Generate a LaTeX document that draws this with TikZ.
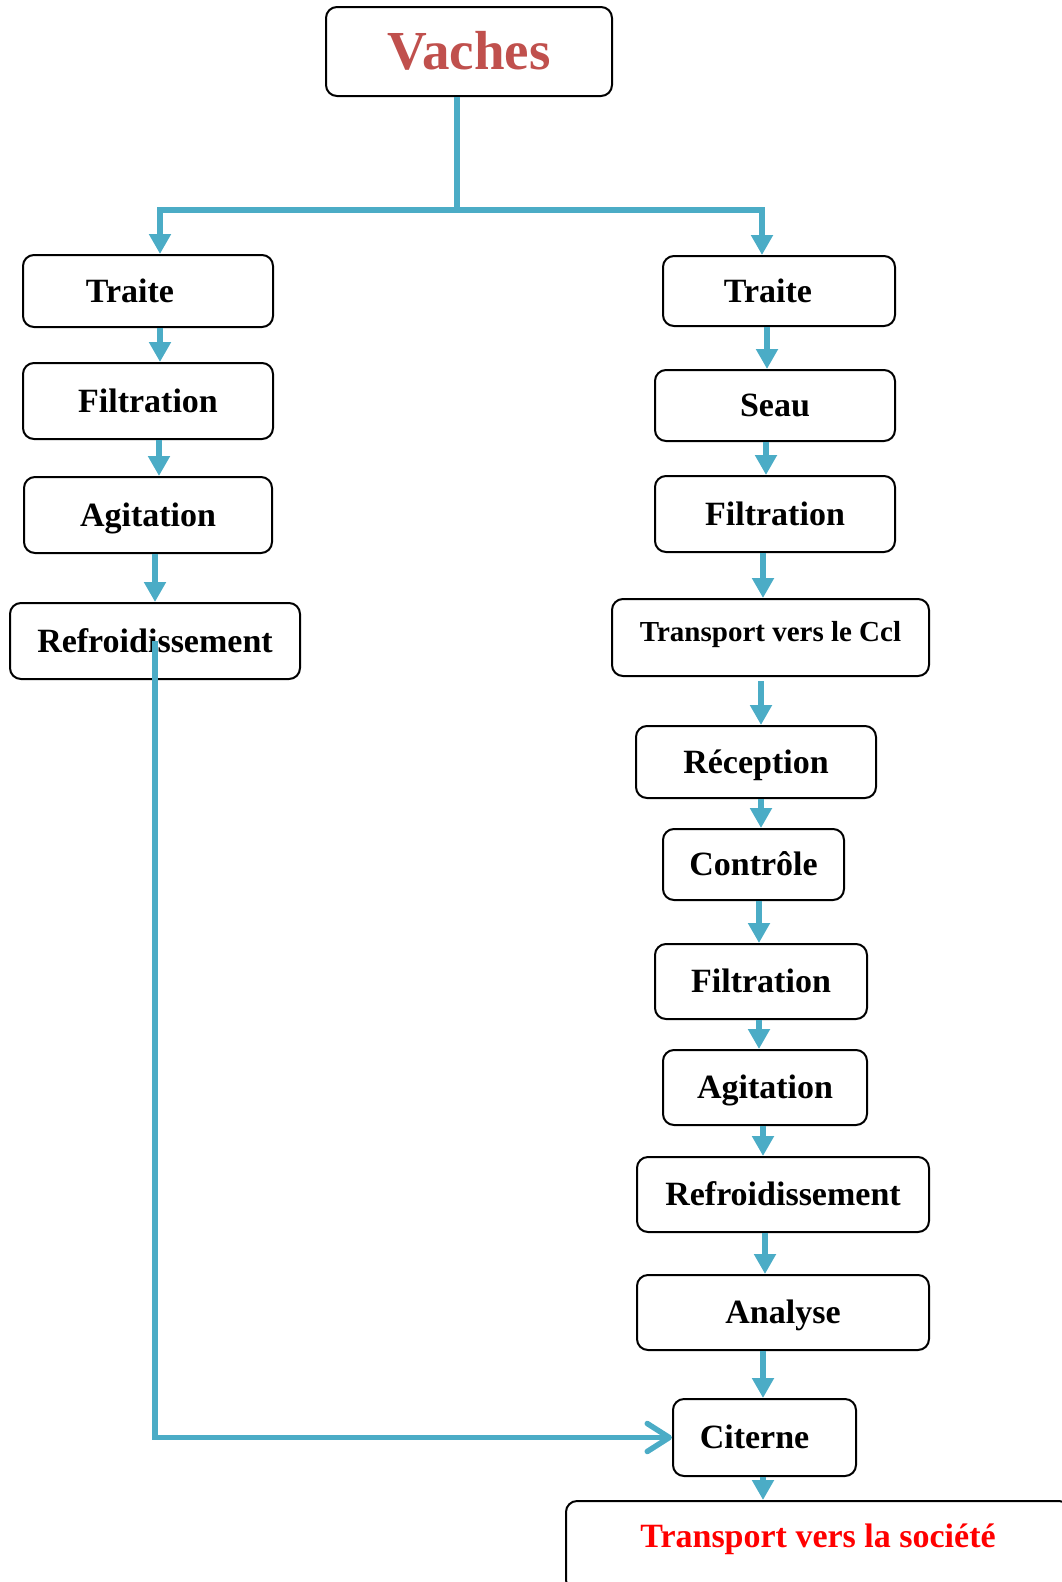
\documentclass[tikz,border=0pt]{standalone}
\usepackage{fontspec}
\setmainfont{Liberation Serif}
\usetikzlibrary{arrows.meta}
\definecolor{bleuf}{HTML}{4BACC6}
\definecolor{rouille}{HTML}{C0504D}
\definecolor{rougevif}{HTML}{FF0000}

\tikzset{
  etape/.style={draw=black, line width=2pt, rounded corners=11pt, inner sep=0pt,
    font=\bfseries\fontsize{34}{40}\selectfont, text height=22.5pt, text depth=0pt},
  lien/.style={draw=bleuf, line width=6.5pt},
  fleche/.style={lien, -{Triangle[width=21pt,length=20pt]}},
  retour/.style={lien, line width=5.5pt, -{Straight Barb[length=22pt,width=28pt,round]}}
}

\begin{document}
\begin{tikzpicture}[x=1pt,y=-1pt]
  \clip (0,0) rectangle (1062,1582);

  % source
  \node[etape, minimum width=286pt, minimum height=89pt, text=rouille,
    font=\bfseries\fontsize{55}{62}\selectfont, text height=36.4pt] (vaches) at (469,51.5) {Vaches};

  % colonne gauche
  \node[etape, minimum width=250pt, minimum height=72pt] (ltraite) at (148,291) {Traite\kern36pt};
  \node[etape, minimum width=250pt, minimum height=76pt] (lfilt) at (148,401) {Filtration};
  \node[etape, minimum width=248pt, minimum height=76pt] (lagit) at (148,515) {Agitation};
  \node[etape, minimum width=290pt, minimum height=76pt] (lrefr) at (155,641) {Refroidissement};

  % colonne droite
  \node[etape, minimum width=232pt, minimum height=70pt] (rtraite) at (779,291) {Traite\kern22pt};
  \node[etape, minimum width=240pt, minimum height=71pt] (seau) at (775,405.5) {Seau};
  \node[etape, minimum width=240pt, minimum height=76pt] (rfilt) at (775,514) {Filtration};
  \node[etape, minimum width=317pt, minimum height=77pt, font=\bfseries\fontsize{29}{34}\selectfont,
    text height=19.2pt, text depth=11pt] (ccl) at (770.5,637.5) {Transport vers le Ccl};
  \node[etape, minimum width=240pt, minimum height=72pt] (recep) at (756,762) {Réception};
  \node[etape, minimum width=181pt, minimum height=71pt] (contr) at (753.5,864.5) {Contrôle};
  \node[etape, minimum width=212pt, minimum height=75pt] (rfilt2) at (761,981.5) {Filtration};
  \node[etape, minimum width=204pt, minimum height=75pt] (ragit) at (765,1087.5) {Agitation};
  \node[etape, minimum width=292pt, minimum height=75pt] (rrefr) at (783,1194.5) {Refroidissement};
  \node[etape, minimum width=292pt, minimum height=75pt] (analyse) at (783,1312.5) {Analyse};
  \node[etape, minimum width=183pt, minimum height=77pt] (citerne) at (764.5,1437.5) {Citerne\kern20pt};
  \node[etape, minimum width=504pt, minimum height=90pt, text=rougevif, text depth=20pt] (societe) at (818,1546) {Transport vers la société};

  % branchement
  \coordinate (fourche) at (457,210);
  \draw[lien] ([xshift=-12pt]vaches.south) -- (fourche);
  \draw[fleche] (fourche) -| ([xshift=12pt]ltraite.north);
  \draw[fleche] (fourche) -| ([xshift=-17pt]rtraite.north);

  % gauche
  \draw[fleche] ([xshift=12pt]ltraite.south) -- ([xshift=12pt]lfilt.north);
  \draw[fleche] ([xshift=11pt]lfilt.south) -- ([xshift=11pt]lagit.north);
  \draw[fleche] ([xshift=7pt]lagit.south) -- (lrefr.north);
  \draw[retour] (lrefr.center) |- (citerne.west);

  % droite
  \draw[fleche] ([xshift=-12pt]rtraite.south) -- ([xshift=-8pt]seau.north);
  \draw[fleche] ([xshift=-9pt]seau.south) -- ([xshift=-9pt]rfilt.north);
  \draw[fleche] ([xshift=-12pt]rfilt.south) -- ([xshift=-7.5pt]ccl.north);
  \draw[fleche] ([xshift=-9.5pt,yshift=-4pt]ccl.south) -- ([xshift=5pt]recep.north);
  \draw[fleche] ([xshift=5pt]recep.south) -- ([xshift=7.5pt]contr.north);
  \draw[fleche] ([xshift=5.5pt]contr.south) -- ([xshift=-2pt]rfilt2.north);
  \draw[fleche] ([xshift=-2pt]rfilt2.south) -- ([xshift=-6pt]ragit.north);
  \draw[fleche] ([xshift=-2pt]ragit.south) -- ([xshift=-20pt]rrefr.north);
  \draw[fleche] ([xshift=-18pt]rrefr.south) -- ([xshift=-18pt]analyse.north);
  \draw[fleche] ([xshift=-20pt]analyse.south) -- ([xshift=-1.5pt]citerne.north);
  \draw[fleche] ([xshift=-1.5pt]citerne.south) -- ([xshift=-55pt]societe.north);
\end{tikzpicture}
\end{document}
